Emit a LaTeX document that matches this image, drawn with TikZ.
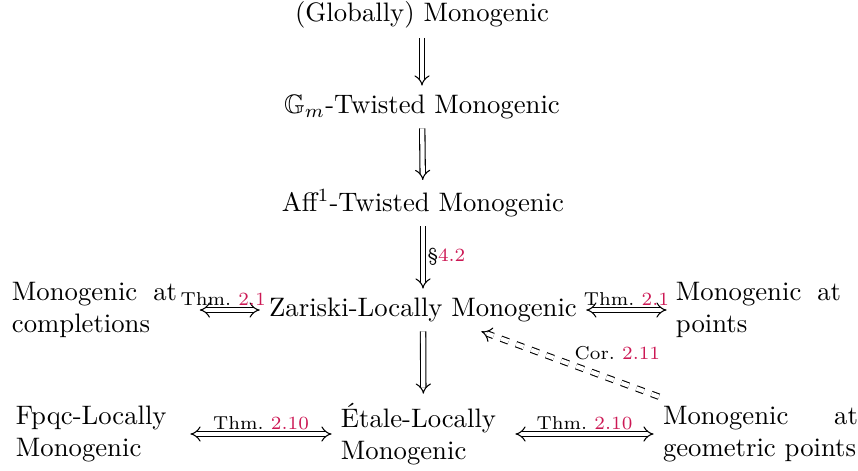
\documentclass[tikz,border=0pt]{standalone}
\usepackage{amsmath, amssymb}
\usepackage{tikz}
\usetikzlibrary{arrows.meta}
\definecolor{refcol}{RGB}{204,24,84}
\tikzstyle{wide}=[text width=61.8pt, align=justify]
\tikzstyle{narrow}=[text width=61.8pt, align=left]
\tikzstyle{imp}=[double, double distance=1.6pt, -{Implies}]
\tikzstyle{iff}=[double, double distance=1.6pt, {Implies}-{Implies}]
\tikzstyle{lab}=[font=\scriptsize, inner sep=1.5pt]
\newcommand{\reff}[1]{\textcolor{refcol}{#1}}

\begin{document}
\begin{tikzpicture}[x=0.3745pt, y=-0.3745pt]
    \useasboundingbox (0,0) rectangle (858,470);

    \node (glob) at (422,15) {(Globally) Monogenic};
    \node (gm) at (422,107) {$\mathbb{G}_m$-Twisted Monogenic};
    \node (aff) at (423,203) {Aff$^1$-Twisted Monogenic};

    \node (zar) at (423,310) {Zariski-Locally Monogenic};
    \node[wide] (compl) at (94.5,310) {Monogenic at completions};
    \node[wide] (pts) at (758.5,310) {Monogenic at points};

    \node[narrow] (etale) at (423.5,434) {\'Etale-Locally\\Monogenic};
    \node[narrow] (fpqc) at (98.5,434) {Fpqc-Locally\\Monogenic};
    \node[wide, text width=73pt] (geo) at (760.5,434) {Monogenic at geometric points};

    \draw[imp] (glob) -- (gm);
    \draw[imp] (gm) -- (aff);
    \draw[imp] (aff) -- node[lab, right] {\S\reff{4.2}} (zar);
    \draw[imp] (zar) -- (etale);

    \draw[iff, shorten <=5pt] (compl) -- node[lab, above] {Thm.~\reff{2.1}} (zar);
    \draw[iff] (zar) -- node[lab, above] {Thm.~\reff{2.1}} (pts);
    \draw[iff] (fpqc) -- node[lab, above] {Thm.~\reff{2.10}} (etale);
    \draw[iff] (etale) -- node[lab, above] {Thm.~\reff{2.10}} (geo);

    \draw[imp, dashed] (geo) -- node[lab, anchor=south west] {Cor.~\reff{2.11}} (zar);
\end{tikzpicture}
\end{document}
